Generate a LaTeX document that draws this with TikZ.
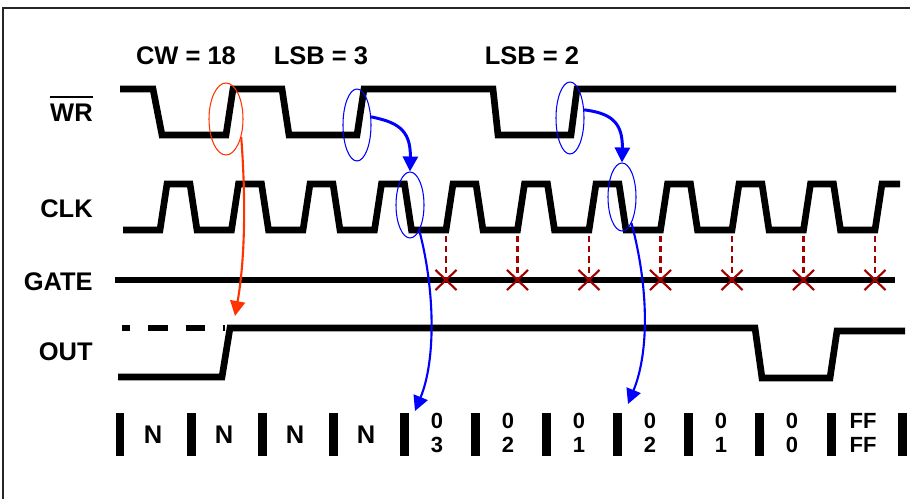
\documentclass[tikz,border=0pt]{standalone}
\usepackage{fontspec}
\setmainfont{Liberation Sans}
\usetikzlibrary{arrows.meta,shapes.geometric,shapes.misc}
\definecolor{ored}{RGB}{255,51,0}
\definecolor{dred}{RGB}{160,0,0}
\begin{document}
\begin{tikzpicture}[x=0.02cm,y=-0.02cm,font=\bfseries]
\tikzstyle{sig}=[line width=3.8pt]
\tikzstyle{lbl}=[font=\fontsize{14.5}{17}\bfseries\selectfont,inner sep=0pt]
\tikzstyle{digit}=[font=\fontsize{12.5}{14}\bfseries\selectfont,inner sep=0pt,align=center]
\tikzstyle{ring}=[draw,ellipse,line width=0.6pt,inner sep=0pt,minimum width=0.56cm]
\tikzstyle{fly}=[-{Triangle[length=8.5pt,width=8.5pt]}]
\tikzstyle{tick}=[dred,line width=1.3pt,dash pattern=on 3.5pt off 2.3pt]
\tikzstyle{xm}=[draw=dred,cross out,line width=1.2pt,minimum width=0.38cm,minimum height=0.36cm,inner sep=0pt]
\tikzstyle{bar}=[fill,minimum width=0.18cm,minimum height=0.86cm,inner sep=0pt]
\useasboundingbox (0,0) rectangle (910,499);
\draw[line width=1.2pt,black!85] (910,8) -- (3,8) -- (3,499);
\node[lbl,anchor=base] (cw) at (186,65) {CW = 18};
\node[lbl,anchor=base] (lsba) at (321,65) {LSB = 3};
\node[lbl,anchor=base] (lsbb) at (532,65) {LSB = 2};
\node[lbl,anchor=base east] (wr) at (93,122) {\vbox{\hrule height 1.1pt\kern 3.6pt\hbox{WR}}};
\node[lbl,anchor=base east] (clk) at (93,218) {CLK};
\node[lbl,anchor=base east] (gate) at (93,291) {GATE};
\node[lbl,anchor=base east] (out) at (93,361) {OUT};
\draw[sig] (120,89) -- (153,89) -- (162,135) -- (226,135) -- (233,89) -- (282,89) -- (289,135) -- (357,135) -- (364,89) -- (493,89) -- (498,135) -- (571,135) -- (577,89) -- (896,89);
\draw[sig] (123,230) \foreach \k in {0,...,9} {-- ({160+71.5*\k},230) -- ({167+71.5*\k},184) -- ({190+71.5*\k},184) -- ({197+71.5*\k},230)} -- (875,230) -- (882,184) -- (900,184);
\draw[sig] (115,280) -- (895,280);
\draw[sig,dash pattern=on 11.3pt off 10.2pt,dash phase=6.8pt] (122,328) -- (225,328);
\draw[sig] (118,377) -- (222,377) -- (230,328) -- (755,328) -- (762,378) -- (830,378) -- (837,331) -- (905,331);
\foreach \k [count=\i] in {4,...,10} {
  \node[xm] (g\i) at ({160+71.5*\k},280) {};
  \coordinate (t\i) at ({160+71.5*\k},236);
  \draw[tick] (t\i) -- (g\i.center);
}
\node[ring,draw=ored,minimum width=0.68cm,minimum height=1.44cm] (r0) at (226,119) {};
\node[ring,draw=blue,minimum height=1.44cm] (r1) at (357,125) {};
\node[ring,draw=blue,minimum height=1.32cm] (r2) at (410,205) {};
\node[ring,draw=blue,minimum height=1.44cm] (r3) at (570,118) {};
\node[ring,draw=blue,minimum height=1.36cm] (r4) at (622,197) {};
\coordinate (o1) at (235,316);
\coordinate (d1) at (415,411);
\coordinate (d2) at (628,404);
\draw[ored,line width=1.2pt,fly] (r0.-50) .. controls (246,200) and (245,260) .. (o1);
\draw[blue,line width=1.7pt,fly] (r1.30) .. controls (395,122) and (411,128) .. (r2.north);
\draw[blue,line width=1.7pt,fly] (r3.30) .. controls (608,113) and (623,120) .. (r4.north);
\draw[blue,line width=1.2pt,fly] (r2.-70) .. controls (435,290) and (436,360) .. (d1);
\draw[blue,line width=1.2pt,fly] (r4.-70) .. controls (648,285) and (650,350) .. (d2);
\foreach \k in {0,...,11} \node[bar] (b\k) at ({120+71.1*\k},434.5) {};
\foreach \i in {1,...,4} \node[lbl] (v\i) at ({82+71*\i},435) {N};
\foreach \t [count=\i from 5] in {{0\\3},{0\\2},{0\\1},{0\\2},{0\\1},{0\\0},{FF\\FF}} \node[digit] (v\i) at ({82+71*\i},433) {\t};
\end{tikzpicture}
\end{document}
